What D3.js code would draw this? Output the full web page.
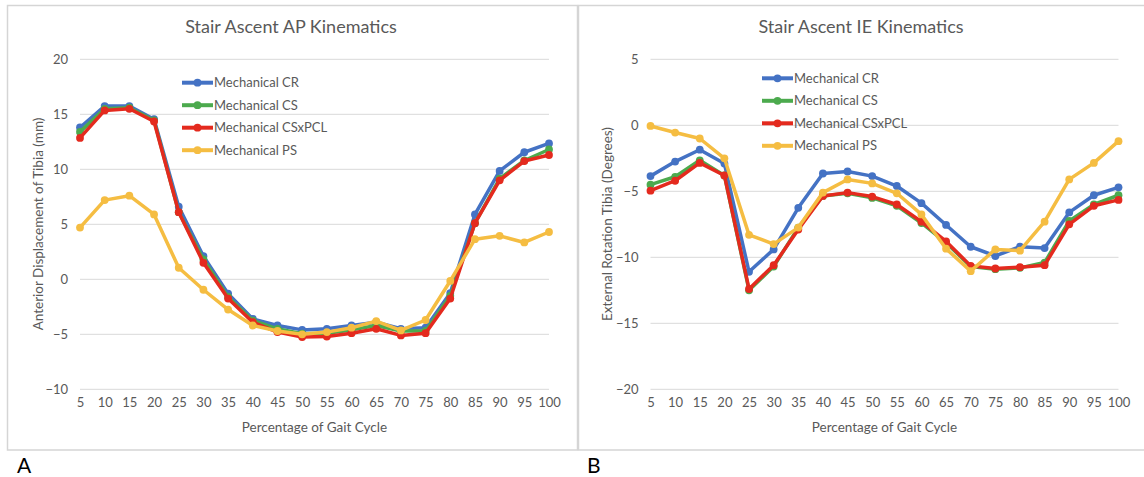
<!DOCTYPE html>
<html>
<head>
<meta charset="utf-8">
<script src="https://cdn.jsdelivr.net/npm/d3@7"></script>
<style>
  html, body { margin: 0; padding: 0; background: #fff; }
  svg { display: block; font-family: Lato, "Open Sans", "DejaVu Sans", sans-serif; }
</style>
</head>
<body>
<svg id="chart" width="1144" height="477"></svg>
<script>
// Gait cycle percentages (x categories)
const categories = [5, 10, 15, 20, 25, 30, 35, 40, 45, 50, 55, 60, 65, 70, 75, 80, 85, 90, 95, 100];

const seriesNames = ["Mechanical CR", "Mechanical CS", "Mechanical CSxPCL", "Mechanical PS"];
const seriesColors = ["#4472C4", "#4CAA4E", "#E42A1E", "#F5BD42"];

// Anterior displacement of tibia (mm)
const apCR      = [13.8, 15.75, 15.75, 14.55, 6.6, 2.1, -1.3, -3.6, -4.2, -4.6, -4.5, -4.2, -3.9, -4.5, -4.4, -1.25, 5.9, 9.85, 11.55, 12.35];
const apCS      = [13.4, 15.5, 15.6, 14.45, 6.1, 1.8, -1.6, -3.75, -4.5, -4.95, -4.9, -4.6, -4.2, -4.7, -4.7, -1.5, 5.1, 9.15, 10.8, 11.8];
const apCSxPCL  = [12.85, 15.35, 15.5, 14.35, 6.1, 1.5, -1.75, -3.9, -4.8, -5.25, -5.2, -4.9, -4.5, -5.1, -4.9, -1.75, 5.1, 9.0, 10.75, 11.3];
const apPS      = [4.7, 7.2, 7.6, 5.9, 1.05, -0.95, -2.75, -4.2, -4.7, -5.0, -4.8, -4.4, -3.8, -4.65, -3.7, -0.15, 3.65, 3.95, 3.35, 4.3];

// External rotation of tibia (degrees)
const ieCR      = [-3.85, -2.75, -1.85, -2.9, -11.1, -9.4, -6.25, -3.65, -3.5, -3.85, -4.6, -5.9, -7.55, -9.2, -9.9, -9.2, -9.3, -6.6, -5.3, -4.7];
const ieCS      = [-4.5, -3.9, -2.65, -3.8, -12.5, -10.7, -7.75, -5.35, -5.15, -5.5, -6.1, -7.4, -8.9, -10.7, -10.9, -10.8, -10.4, -7.25, -6.0, -5.3];
const ieCSxPCL  = [-4.95, -4.2, -2.85, -3.8, -12.4, -10.6, -7.9, -5.35, -5.1, -5.4, -6.0, -7.3, -8.8, -10.65, -10.85, -10.75, -10.6, -7.5, -6.1, -5.65];
const iePS      = [-0.05, -0.55, -1.0, -2.5, -8.3, -9.0, -7.75, -5.1, -4.1, -4.4, -5.15, -6.75, -9.35, -11.05, -9.4, -9.5, -7.3, -4.1, -2.85, -1.2];

const apTicks = [-10, -5, 0, 5, 10, 15, 20];
const ieTicks = [-20, -15, -10, -5, 0, 5];

const svg = d3.select("#chart");
const textColor = "#595959";
const gridColor = "#D9D9D9";

// Panel frames
svg.append("rect").attr("x", 7.5).attr("y", 5.5).attr("width", 570).attr("height", 444.5)
  .attr("fill", "none").attr("stroke", "#D5D5D5").attr("stroke-width", 1.5);
svg.append("rect").attr("x", 578.5).attr("y", 5.5).attr("width", 570).attr("height", 444.5)
  .attr("fill", "none").attr("stroke", "#D5D5D5").attr("stroke-width", 1.5);

function drawPanel(cfg) {
  const g = svg.append("g");
  const x = d3.scalePoint().domain(categories).range([cfg.x0, cfg.x1]).padding(0);
  const y = d3.scaleLinear().domain(cfg.yDomain).range([389.3, 59.3]);

  // Horizontal gridlines
  g.append("g").selectAll("line").data(cfg.yTicks).join("line")
    .attr("x1", cfg.x0).attr("x2", cfg.x1)
    .attr("y1", d => y(d)).attr("y2", d => y(d))
    .attr("stroke", gridColor).attr("stroke-width", 1);

  // Y axis labels
  const yAxis = d3.axisLeft(y).tickValues(cfg.yTicks).tickSize(0).tickPadding(0);
  const ya = g.append("g").attr("transform", `translate(${cfg.x0 - 12},0)`).call(yAxis);
  ya.select(".domain").remove();
  ya.selectAll("text").attr("fill", textColor).style("font-size", "13px")
    .style("font-family", "Lato, 'Open Sans', sans-serif");

  // X axis labels
  const xAxis = d3.axisBottom(x).tickSize(0).tickPadding(0);
  const xa = g.append("g").attr("transform", `translate(0,${398})`).call(xAxis);
  xa.select(".domain").remove();
  xa.selectAll("text").attr("fill", textColor).style("font-size", "13px")
    .style("font-family", "Lato, 'Open Sans', sans-serif");

  // Title and axis titles
  g.append("text").attr("x", cfg.titleX).attr("y", 33).attr("text-anchor", "middle")
    .attr("fill", textColor).style("font-size", "18px").text(cfg.title);
  g.append("text").attr("x", (cfg.x0 + cfg.x1) / 2).attr("y", 432).attr("text-anchor", "middle")
    .attr("fill", textColor).style("font-size", "13.5px").text("Percentage of Gait Cycle");
  g.append("text").attr("transform", `translate(${cfg.yTitleX},224) rotate(-90)`)
    .attr("text-anchor", "middle").attr("fill", textColor).style("font-size", "13.5px")
    .text(cfg.yTitle);

  // Series lines and markers
  const line = d3.line().x((d, i) => x(categories[i])).y(d => y(d));
  cfg.series.forEach((vals, si) => {
    g.append("path").datum(vals).attr("d", line)
      .attr("fill", "none").attr("stroke", seriesColors[si]).attr("stroke-width", 3.5)
      .attr("stroke-linejoin", "round").attr("stroke-linecap", "round");
    g.append("g").selectAll("circle").data(vals).join("circle")
      .attr("cx", (d, i) => x(categories[i])).attr("cy", d => y(d)).attr("r", 3.9)
      .attr("fill", seriesColors[si]);
  });

  // Legend
  const lg = g.append("g");
  seriesNames.forEach((name, si) => {
    const ly = cfg.legY + si * 22.5;
    lg.append("line").attr("x1", cfg.legX).attr("x2", cfg.legX + 31).attr("y1", ly).attr("y2", ly)
      .attr("stroke", seriesColors[si]).attr("stroke-width", 4);
    lg.append("circle").attr("cx", cfg.legX + 15.5).attr("cy", ly).attr("r", 3.9).attr("fill", seriesColors[si]);
    lg.append("text").attr("x", cfg.legX + 32).attr("y", ly + 4.5).attr("fill", textColor)
      .style("font-size", "13px").text(name);
  });

  // Panel letter
  g.append("text").attr("x", cfg.letterX).attr("y", 473).attr("fill", "#000")
    .style("font-size", "21px").text(cfg.letter);
}

drawPanel({
  x0: 80, x1: 549, yDomain: [-10, 20], yTicks: apTicks,
  title: "Stair Ascent AP Kinematics", titleX: 291,
  yTitle: "Anterior Displacement of Tibia (mm)", yTitleX: 43,
  series: [apCR, apCS, apCSxPCL, apPS],
  legX: 182, legY: 82.7, letter: "A", letterX: 17
});

drawPanel({
  x0: 650.5, x1: 1118.5, yDomain: [-20, 5], yTicks: ieTicks,
  title: "Stair Ascent IE Kinematics", titleX: 861,
  yTitle: "External Rotation Tibia (Degrees)", yTitleX: 612,
  series: [ieCR, ieCS, ieCSxPCL, iePS],
  legX: 762, legY: 78.3, letter: "B", letterX: 587
});
</script>
</body>
</html>
